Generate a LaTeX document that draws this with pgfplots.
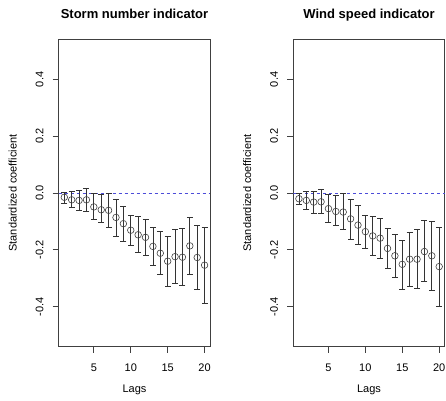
\documentclass[border=0pt]{standalone}
\usepackage{fontspec}
\setmainfont{Liberation Sans}
\usepackage{pgfplots}
\pgfplotsset{compat=1.18}
\usepackage{pgfplotstable}

% lag, coefficient, upper and lower end of the interval
\pgfplotstableread{
lag  y       hi      lo
1   -0.015   0.002  -0.035
2   -0.024   0.006  -0.049
3   -0.026   0.009  -0.062
4   -0.024   0.018  -0.065
5   -0.049  -0.002  -0.094
6   -0.059  -0.006  -0.104
7   -0.061   0.000  -0.120
8   -0.086  -0.021  -0.151
9   -0.108  -0.047  -0.171
10  -0.131  -0.078  -0.185
11  -0.147  -0.082  -0.208
12  -0.156  -0.092  -0.221
13  -0.188  -0.121  -0.256
14  -0.212  -0.136  -0.286
15  -0.240  -0.153  -0.327
16  -0.224  -0.129  -0.318
17  -0.226  -0.124  -0.325
18  -0.186  -0.086  -0.288
19  -0.227  -0.115  -0.338
20  -0.254  -0.121  -0.388
}\storm

\pgfplotstableread{
lag  y       hi      lo
1   -0.020   0.000  -0.041
2   -0.026   0.006  -0.059
3   -0.032   0.007  -0.071
4   -0.031   0.012  -0.073
5   -0.055  -0.006  -0.104
6   -0.065  -0.009  -0.115
7   -0.067   0.000  -0.129
8   -0.091  -0.021  -0.162
9   -0.113  -0.045  -0.180
10  -0.136  -0.078  -0.194
11  -0.151  -0.082  -0.221
12  -0.159  -0.088  -0.229
13  -0.195  -0.126  -0.265
14  -0.221  -0.147  -0.296
15  -0.251  -0.165  -0.339
16  -0.233  -0.139  -0.329
17  -0.233  -0.129  -0.335
18  -0.206  -0.098  -0.312
19  -0.221  -0.100  -0.341
20  -0.259  -0.120  -0.398
}\wind

\definecolor{framegray}{gray}{0.25}
\definecolor{zeroblue}{rgb}{0.3,0.3,0.85}

\pgfplotsset{
  rpanel/.style={
    anchor=south west,
    scale only axis,
    width=151.5pt, height=307.4pt,
    xmin=0.24, xmax=20.76,
    ymin=-0.541, ymax=0.541,
    xtick={5,10,15,20},
    ytick={-0.4,-0.2,0,0.2,0.4},
    xtick pos=bottom, ytick pos=left,
    tick align=outside,
    major tick length=6pt,
    axis line style={framegray, line width=0.8pt},
    tick style={framegray, line width=0.7pt},
    /pgf/number format/assume math mode=true,
    yticklabel style={/pgf/number format/fixed,
      /pgf/number format/fixed zerofill,
      /pgf/number format/precision=1},
    every tick label/.append style={font=\fontsize{11}{13}\selectfont},
    yticklabel style={rotate=90, anchor=base},
    xticklabel style={anchor=base},
    yticklabel shift=9.4pt,
    xticklabel shift=19pt,
    xlabel={Lags},
    ylabel={Standardized coefficient},
    every axis x label/.style={at={(axis description cs:0.5,-0.1474)}, anchor=base,
      font=\fontsize{11}{13}\selectfont},
    every axis y label/.style={at={(axis description cs:-0.2776,0.5)}, rotate=90, anchor=base,
      font=\fontsize{11}{13}\selectfont},
    every axis title/.style={at={(axis description cs:0.5,1.0683)}, anchor=base,
      font=\bfseries\fontsize{13}{15}\selectfont},
  },
  coefplot/.style={
    only marks, mark=o, mark size=3.3pt,
    mark options={black!75, line width=0.6pt},
    error bars/.cd, y dir=both, y explicit,
    error bar style={black!80, line width=0.7pt},
    error mark options={black!80, line width=0.7pt, mark size=3pt, rotate=90},
  },
}

\begin{document}
\begin{tikzpicture}
\useasboundingbox (0pt,0pt) rectangle (446pt,400pt);

\begin{axis}[rpanel, at={(58.7pt,53.3pt)}, title={Storm number indicator}]
  \addplot[zeroblue, line width=0.6pt, dash pattern=on 3pt off 3pt] coordinates {(0.24,0) (20.76,0)};
  \addplot[coefplot] table[x=lag, y=y,
    y error plus expr=\thisrow{hi}-\thisrow{y},
    y error minus expr=\thisrow{y}-\thisrow{lo}] {\storm};
\end{axis}

\begin{axis}[rpanel, at={(293.3pt,53.3pt)}, title={Wind speed indicator}]
  \addplot[zeroblue, line width=0.6pt, dash pattern=on 3pt off 3pt] coordinates {(0.24,0) (20.76,0)};
  \addplot[coefplot] table[x=lag, y=y,
    y error plus expr=\thisrow{hi}-\thisrow{y},
    y error minus expr=\thisrow{y}-\thisrow{lo}] {\wind};
\end{axis}
\end{tikzpicture}
\end{document}
